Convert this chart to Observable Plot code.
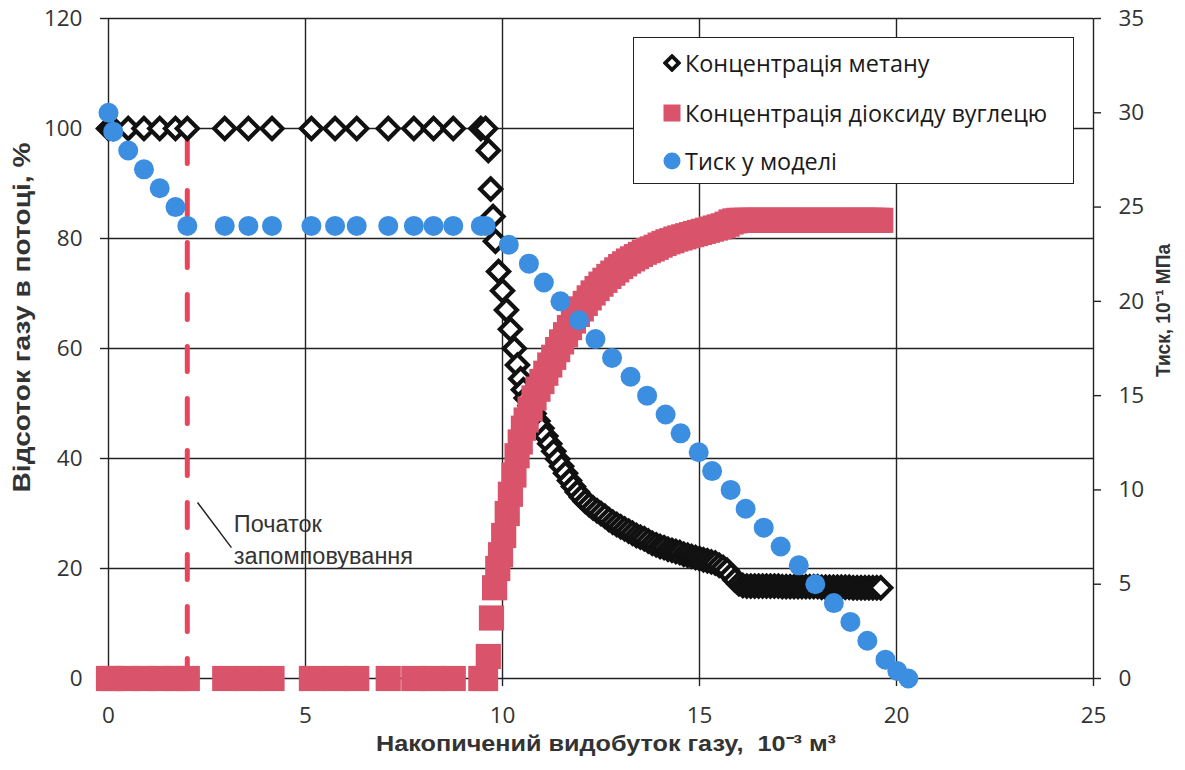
<!DOCTYPE html>
<html>
<head>
<meta charset="utf-8">
<script src="https://cdn.jsdelivr.net/npm/d3@7"></script>
<script src="https://cdn.jsdelivr.net/npm/@observablehq/plot@0.6"></script>
<style>
  body { margin: 0; background: #fff; }
  #chart { position: relative; width: 1185px; height: 770px; }
  .legend {
    position: absolute; left: 633px; top: 37px; width: 439px; height: 145px;
    border: 1.5px solid #222; background: #fff;
    font-family: "Open Sans", sans-serif; font-size: 23.4px; color: #1a1a1a;
  }
  .legend .row { position: absolute; left: 29px; height: 30px; display: flex; align-items: center; white-space: nowrap; }
  .legend svg { margin-right: 4px; }
</style>
</head>
<body>
<div id="chart"></div>
<script>
// Cumulative gas production (10^-3 m3) for the flat part of the run, shared by all three series
const plateauX = [0, 0.12, 0.5, 0.9, 1.3, 1.7, 2.0, 2.95, 3.55, 4.15, 5.15, 5.75, 6.3, 7.1, 7.75, 8.25, 8.75, 9.45, 9.57];

// Methane concentration in the produced gas, %
const methaneX = [...plateauX,
  9.64, 9.7, 9.76, 9.82, 9.9, 10.0, 10.1, 10.2, 10.3, 10.38, 10.46, 10.53,
  10.6, 10.7, 10.8, 10.9, 11.0, 11.1, 11.2, 11.3, 11.4, 11.5,
  11.6, 11.7, 11.8, 11.9, 12.0, 12.1, 12.2, 12.3, 12.4, 12.5,
  12.6, 12.7, 12.8, 12.9, 13.0, 13.1, 13.2, 13.3, 13.4, 13.5,
  13.6, 13.7, 13.8, 13.9, 14.0, 14.1, 14.2, 14.3, 14.4, 14.5,
  14.6, 14.7, 14.8, 14.9, 15.0, 15.1, 15.2, 15.3, 15.4, 15.5,
  15.6, 15.7, 15.8, 15.9, 16.0, 16.1, 16.2, 16.3, 16.4, 16.5,
  16.6, 16.7, 16.8, 16.9, 17.0, 17.1, 17.2, 17.3, 17.4, 17.5,
  17.6, 17.7, 17.8, 17.9, 18.0, 18.1, 18.2, 18.3, 18.4, 18.5,
  18.6, 18.7, 18.8, 18.9, 19.0, 19.1, 19.2, 19.3, 19.4, 19.5, 19.6];
const methane = [100, 100, 100, 100, 100, 100, 100, 100, 100, 100,
  100, 100, 100, 100, 100, 100, 100, 100, 100,
  96, 89, 84, 79.5, 74, 70.5, 67, 63.5, 60, 57, 54.5, 52.5,
  51.0, 49.6, 48.2, 46.8, 45.5, 44.1, 42.7, 41.3, 39.9, 38.6,
  37.3, 36.0, 34.9, 33.9, 33.0, 32.2, 31.6, 31.0, 30.5, 30.0,
  29.5, 28.9, 28.4, 28.0, 27.6, 27.2, 26.8, 26.4, 26.0, 25.7,
  25.4, 25.0, 24.6, 24.3, 24.0, 23.8, 23.5, 23.3, 23.1, 22.9,
  22.6, 22.4, 22.2, 22.0, 21.8, 21.6, 21.4, 21.2, 21.0, 20.6,
  20.2, 19.7, 18.8, 17.9, 17.2, 16.9, 16.8, 16.8, 16.8, 16.8,
  16.8, 16.8, 16.8, 16.8, 16.8, 16.7, 16.7, 16.7, 16.7, 16.7,
  16.7, 16.7, 16.7, 16.7, 16.7, 16.6, 16.6, 16.6, 16.6, 16.6,
  16.6, 16.6, 16.6, 16.5, 16.5, 16.5, 16.5, 16.5, 16.5, 16.5, 16.5];

// Carbon dioxide concentration in the produced gas, %
const co2X = [...plateauX,
  9.64, 9.72, 9.8, 9.88, 9.95, 10.03, 10.12, 10.2, 10.29, 10.37, 10.45, 10.53,
  10.6, 10.7, 10.8, 10.9, 11.0, 11.1, 11.2, 11.3, 11.4, 11.5,
  11.6, 11.7, 11.8, 11.9, 12.0, 12.1, 12.2, 12.3, 12.4, 12.5,
  12.6, 12.7, 12.8, 12.9, 13.0, 13.1, 13.2, 13.3, 13.4, 13.5,
  13.6, 13.7, 13.8, 13.9, 14.0, 14.1, 14.2, 14.3, 14.4, 14.5,
  14.6, 14.7, 14.8, 14.9, 15.0, 15.1, 15.2, 15.3, 15.4, 15.5,
  15.6, 15.7, 15.8, 15.9, 16.0, 16.1, 16.2, 16.3, 16.4, 16.5,
  16.6, 16.7, 16.8, 16.9, 17.0, 17.1, 17.2, 17.3, 17.4, 17.5,
  17.6, 17.7, 17.8, 17.9, 18.0, 18.1, 18.2, 18.3, 18.4, 18.5,
  18.6, 18.7, 18.8, 18.9, 19.0, 19.1, 19.2, 19.3, 19.4, 19.5, 19.6];
const co2 = [0, 0, 0, 0, 0, 0, 0, 0, 0, 0,
  0, 0, 0, 0, 0, 0, 0, 0, 0,
  4, 11, 16.5, 20, 22.5, 26, 30, 33.5, 37, 40.5, 43, 45.5,
  47.0, 49.0, 51.0, 52.6, 54.0, 55.5, 57.0, 58.4, 59.8, 61.2,
  62.5, 63.8, 65.0, 66.2, 67.2, 68.2, 69.2, 70.1, 70.9, 71.7,
  72.4, 73.1, 73.7, 74.3, 74.9, 75.4, 75.9, 76.3, 76.7, 77.1,
  77.5, 77.8, 78.1, 78.4, 78.8, 79.1, 79.4, 79.6, 79.9, 80.1,
  80.3, 80.5, 80.7, 80.9, 81.1, 81.3, 81.5, 81.7, 81.9, 82.1,
  82.3, 82.6, 83.0, 83.2, 83.3, 83.3, 83.3, 83.3, 83.3, 83.3,
  83.3, 83.3, 83.3, 83.3, 83.3, 83.3, 83.3, 83.3, 83.3, 83.3,
  83.3, 83.3, 83.3, 83.3, 83.3, 83.3, 83.3, 83.3, 83.3, 83.3,
  83.3, 83.3, 83.3, 83.3, 83.3, 83.3, 83.3, 83.3, 83.3, 83.3, 83.3];

// Pressure in the model, 10^-1 MPa (right axis)
const pressureX = [...plateauX,
  10.16, 10.67, 11.05, 11.47, 11.94, 12.36, 12.78, 13.25, 13.67, 14.14,
  14.52, 14.98, 15.32, 15.79, 16.17, 16.63, 17.06, 17.52, 17.94, 18.41,
  18.83, 19.26, 19.72, 20.02, 20.3];
const pressure = [30, 29, 28, 27, 26, 25, 24, 24, 24, 24,
  24, 24, 24, 24, 24, 24, 24, 24, 24,
  23, 22, 21, 20, 19, 18, 17, 16, 15, 14,
  13, 12, 11, 10, 9, 8, 7, 6, 5, 4,
  3, 2, 1, 0.4, 0];

// Axis ticks
const xTicks = [0, 5, 10, 15, 20, 25];
const yTicks = [0, 20, 40, 60, 80, 100, 120];
const pTicks = [0, 5, 10, 15, 20, 25, 30, 35];
const pMax = 35, yMax = 120;

// Axis titles
const titleY = "Відсоток газу в потоці, %";
const titleP = "Тиск, 10⁻¹ МПа";
const titleX = "Накопичений видобуток газу,  10⁻³ м³";

// Start of CO2 injection and its note
const injectionStart = 2;
const noteLines = [
  {x: 3.18, y: 28.0, text: "Початок"},
  {x: 3.18, y: 22.2, text: "запомповування"}
];
const noteLeader = [{x1: 2.26, y1: 32, x2: 3.12, y2: 23.8}];

const seriesNames = ["Концентрація метану", "Концентрація діоксиду вуглецю", "Тиск у моделі"];
const colors = {methane: "#111111", co2: "#d9546a", pressure: "#3c8ee0", dash: "#e8455b", grid: "#222222"};

const methaneData = methaneX.map((x, i) => ({x, y: methane[i]}));
const co2Data = co2X.map((x, i) => ({x, y: co2[i]}));
// pressure is placed on the left scale through the ratio of the two axis maxima
const pressureData = pressureX.map((x, i) => ({x, y: pressure[i] * yMax / pMax}));

// marker shapes with a fixed pixel half-width
const diamondHalf = 10.5, squareHalf = 12.6;
const diamondShape = {draw(ctx) {
  const h = diamondHalf;
  ctx.moveTo(0, -h); ctx.lineTo(h, 0); ctx.lineTo(0, h); ctx.lineTo(-h, 0); ctx.closePath();
}};
const squareShape = {draw(ctx) {
  const h = squareHalf;
  ctx.rect(-h, -h, 2 * h, 2 * h);
}};

const titleFont = "'Liberation Sans', Arial, sans-serif";

const chart = Plot.plot({
  width: 1185,
  height: 770,
  marginTop: 18,
  marginLeft: 108,
  marginRight: 92,
  marginBottom: 92,
  style: {fontFamily: "'Open Sans', sans-serif", fontSize: "22.5px", color: "#333", background: "#fff", overflow: "visible"},
  x: {domain: [0, 25]},
  y: {domain: [0, yMax]},
  marks: [
    Plot.gridX(xTicks, {stroke: colors.grid, strokeOpacity: 1, strokeWidth: 1.4}),
    Plot.gridY(yTicks, {stroke: colors.grid, strokeOpacity: 1, strokeWidth: 1.4}),
    Plot.axisX({ticks: xTicks, tickSize: 8, tickPadding: 21, label: null, stroke: colors.grid, strokeWidth: 1.4}),
    Plot.axisY({anchor: "left", ticks: yTicks, tickSize: 8, tickPadding: 18, label: null, stroke: colors.grid, strokeWidth: 1.4}),
    Plot.axisY({anchor: "right", ticks: pTicks.map(p => p * yMax / pMax), tickFormat: d => Math.round(d * pMax / yMax), tickSize: 7, tickPadding: 18, label: null, stroke: colors.grid, strokeWidth: 1.4}),
    // axis titles
    Plot.text([titleY], {frameAnchor: "left", textAnchor: "middle", dx: -86, dy: -31, rotate: -90, fontWeight: "bold", fontSize: 23, fontFamily: titleFont, fill: "#333"}),
    Plot.text([titleP], {frameAnchor: "right", textAnchor: "middle", dx: 70, dy: -38, rotate: -90, fontWeight: "bold", fontSize: 20, fontFamily: titleFont, fill: "#333"}),
    Plot.text([titleX], {frameAnchor: "bottom", textAnchor: "middle", dx: 5, dy: 72, fontWeight: "bold", fontSize: 22, fontFamily: titleFont, fill: "#333"}),
    // injection start marker
    Plot.ruleX([injectionStart], {y1: 100, y2: 0, stroke: colors.dash, strokeWidth: 5, strokeDasharray: "25,27", strokeDashoffset: 41.5, strokeLinecap: "round"}),
    Plot.link(noteLeader, {x1: "x1", y1: "y1", x2: "x2", y2: "y2", stroke: "#222", strokeWidth: 1.5}),
    Plot.text(noteLines, {x: "x", y: "y", text: "text", textAnchor: "start", fontSize: 23.5, fontFamily: titleFont, fill: "#333"}),
    // series
    Plot.dot(methaneData, {x: "x", y: "y", symbol: diamondShape, stroke: colors.methane, strokeWidth: 4.2, fill: "#fff"}),
    Plot.dot(co2Data, {x: "x", y: "y", symbol: squareShape, fill: colors.co2, stroke: "none"}),
    Plot.dot(pressureData, {x: "x", y: "y", symbol: "circle", r: 10, fill: colors.pressure, stroke: "none"})
  ]
});

// fit the axis titles to their drawn length
const titleLengths = new Map([[titleY, 350], [titleP, 133], [titleX, 460]]);
chart.querySelectorAll("text").forEach(t => {
  const len = titleLengths.get(t.textContent);
  if (len) {
    t.setAttribute("textLength", len);
    t.setAttribute("lengthAdjust", "spacingAndGlyphs");
  }
});

const host = document.getElementById("chart");
host.appendChild(chart);

// Legend box inside the plot area
const legend = document.createElement("div");
legend.className = "legend";
const symbols = [
  `<svg width="18" height="18" viewBox="-9 -9 18 18"><path d="M0,-6.8L6.8,0L0,6.8L-6.8,0Z" fill="#fff" stroke="${colors.methane}" stroke-width="3.8"/></svg>`,
  `<svg width="18" height="18" viewBox="-9 -9 18 18"><rect x="-8.5" y="-8.5" width="17" height="17" fill="${colors.co2}"/></svg>`,
  `<svg width="18" height="18" viewBox="-9 -9 18 18"><circle r="8.5" fill="${colors.pressure}"/></svg>`
];
const rowCenters = [25, 75, 123];
seriesNames.forEach((name, i) => {
  const row = document.createElement("div");
  row.className = "row";
  row.style.top = (rowCenters[i] - 15) + "px";
  row.innerHTML = symbols[i] + `<span>${name}</span>`;
  legend.appendChild(row);
});
host.appendChild(legend);
</script>
</body>
</html>
